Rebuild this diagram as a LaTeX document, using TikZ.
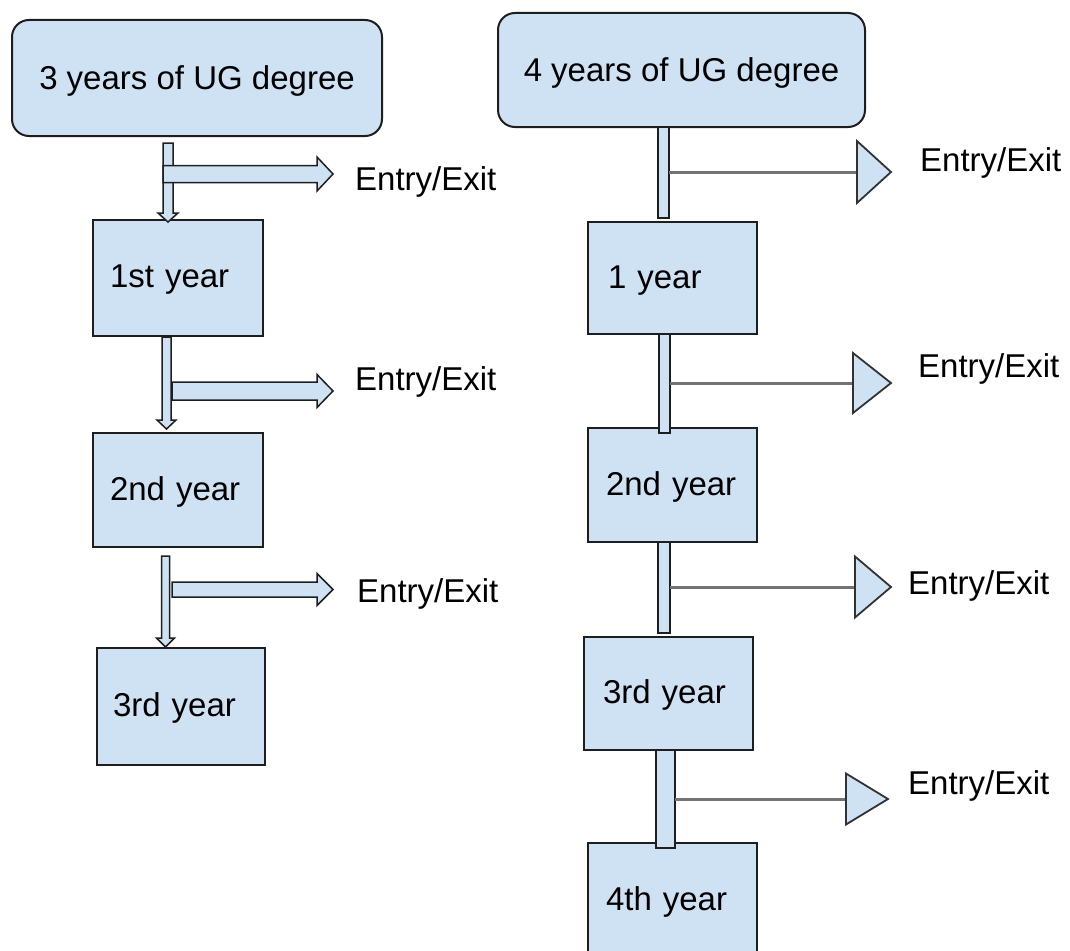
\documentclass[tikz,border=0pt]{standalone}
\usepackage{fontspec}
\setmainfont{Liberation Sans}
\usetikzlibrary{calc}
\definecolor{boxfill}{RGB}{207,226,243}
\definecolor{boxline}{RGB}{30,30,30}
\definecolor{linkgray}{RGB}{115,115,115}
\definecolor{triline}{RGB}{50,50,50}
\tikzset{
  bigfont/.style={font=\fontsize{33}{40}\selectfont},
  box/.style={draw=boxline, fill=boxfill, line width=2pt, inner sep=0pt, bigfont},
  roundbox/.style={box, rounded corners=17pt, text depth=1pt},
  yearbox/.style n args={3}{box, minimum width=#1, minimum height=#2, inner xsep=#3,
     text width={#1-2*#3}, align=left, text depth=3pt},
  blockarrow/.style={draw=boxline, fill=boxfill, line width=1.5pt, line join=miter},
  bar/.style={draw=boxline, fill=boxfill, line width=1.8pt},
  link/.style={draw=linkgray, line width=3pt},
  tri/.style={draw=triline, fill=boxfill, line width=1.8pt, line join=miter},
  entrytext/.style={bigfont, anchor=base west, inner sep=0pt}
}
\newcommand\downblock[4]{%
  \draw[blockarrow] let \p1=(#1), \p2=(#2) in
   ({\x1-#3pt},\y1) -- ({\x1+#3pt},\y1) -- ({\x1+#3pt},{\y2+9pt}) --
   ({\x1+#4pt},{\y2+9pt}) -- (\x1,\y2) -- ({\x1-#4pt},{\y2+9pt}) --
   ({\x1-#3pt},{\y2+9pt}) -- cycle;}
\newcommand\rightblock[4]{%
  \draw[blockarrow] let \p1=(#1), \p2=(#2) in
   (\x1,{\y1+#3pt}) -- ({\x2-16pt},{\y1+#3pt}) -- ({\x2-16pt},{\y1+#4pt}) --
   (\x2,\y1) -- ({\x2-16pt},{\y1-#4pt}) -- ({\x2-16pt},{\y1-#3pt}) --
   (\x1,{\y1-#3pt}) -- cycle;}
\begin{document}
\begin{tikzpicture}[x=1pt,y=-1pt]
\useasboundingbox (0,0) rectangle (1070,950);
\clip (0,0) rectangle (1070,950);

% ---------- left column: 3 years ----------
\node[roundbox, minimum width=370, minimum height=116] (top3) at (197,78) {3 years of UG degree};
\node[yearbox={170}{116}{17}] (y1L) at (178,278) {1st year};
\node[yearbox={170}{114}{17}] (y2L) at (178,490) {2nd year};
\node[yearbox={168}{117}{16}] (y3L) at (181,706.5) {3rd year};

\coordinate (a1s) at (168,143);   \coordinate (a1t) at (168,222);
\coordinate (h1s) at (163,174);   \coordinate (h1t) at (333,174);
\coordinate (a2s) at ($(y1L.south west)+(74.5,0)$); \coordinate (a2t) at (167.5,429);
\coordinate (h2s) at (172,391);   \coordinate (h2t) at (333,391);
\coordinate (a3s) at (165.5,556); \coordinate (a3t) at (165.5,647);
\coordinate (h3s) at (172,589.5); \coordinate (h3t) at (333,589.5);

\downblock{a1s}{a1t}{5}{10}
\rightblock{h1s}{h1t}{8.5}{17}
\downblock{a2s}{a2t}{4.5}{9.5}
\rightblock{h2s}{h2t}{9}{16.5}
\downblock{a3s}{a3t}{4}{9}
\rightblock{h3s}{h3t}{7.5}{16}

\node[entrytext] (e1L) at (355,190) {Entry/Exit};
\node[entrytext] (e2L) at (355,390) {Entry/Exit};
\node[entrytext] (e3L) at (357,602) {Entry/Exit};

% ---------- right column: 4 years ----------
\node[roundbox, minimum width=367, minimum height=114] (top4) at (681.5,70) {4 years of UG degree};
\node[yearbox={169}{112}{20}, text depth=1pt] (y1R) at (672.5,278) {1 year};
\node[yearbox={169}{114}{18}] (y2R) at (672.5,485) {2nd year};
\node[yearbox={169}{113}{19}] (y3R) at (668.5,693.5) {3rd year};
\node[yearbox={169}{114}{18}] (y4R) at (672.5,900) {4th year};

% bars between boxes
\draw[bar] (658,127) rectangle (669,218);
\draw[bar] (659,334) rectangle (670,433);
\draw[bar] (658,542) rectangle (670,633);
\draw[bar] (656,750) rectangle (675,848);

% triangles and links
\coordinate (b1) at (669,172);  \coordinate (t1) at (857,172);
\coordinate (b2) at (670,383);  \coordinate (t2) at (853,383);
\coordinate (b3) at (670,587);  \coordinate (t3) at (855,587);
\coordinate (b4) at (675,799);  \coordinate (t4) at (846,799);

\draw[link] (b1) -- (t1);
\draw[link] (b2) -- (t2);
\draw[link] (b3) -- (t3);
\draw[link] (b4) -- (t4);

\draw[tri] (t1) -- ++(0,-31) -- ++(34,31) -- ++(-34,31) -- cycle;
\draw[tri] (t2) -- ++(0,-30) -- ++(38,30) -- ++(-38,30) -- cycle;
\draw[tri] (t3) -- ++(0,-30.5) -- ++(36,30.5) -- ++(-36,30.5) -- cycle;
\draw[tri] (t4) -- ++(0,-25.5) -- ++(42,25.5) -- ++(-42,25.5) -- cycle;

\node[entrytext] (e1R) at (920,171) {Entry/Exit};
\node[entrytext] (e2R) at (918,377) {Entry/Exit};
\node[entrytext] (e3R) at (908,594) {Entry/Exit};
\node[entrytext] (e4R) at (908,794) {Entry/Exit};
\end{tikzpicture}
\end{document}
